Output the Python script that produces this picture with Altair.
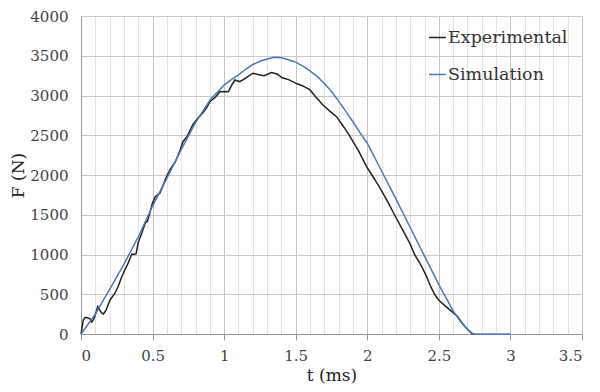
import altair as alt
import pandas as pd

# Experimental (black) curve
exp_t = [0.0, 0.016, 0.03, 0.045, 0.063, 0.075, 0.09, 0.105, 0.117, 0.13, 0.145, 0.157, 0.175,
         0.203, 0.238, 0.26, 0.285, 0.31, 0.33, 0.355, 0.37, 0.385, 0.40, 0.425, 0.449, 0.465,
         0.483, 0.50, 0.519, 0.55, 0.57, 0.59, 0.62, 0.66, 0.69, 0.712, 0.74, 0.78, 0.81, 0.85,
         0.88, 0.90, 0.94, 0.97, 1.0, 1.03, 1.05, 1.075, 1.11, 1.15, 1.2, 1.25, 1.28, 1.33, 1.37,
         1.41, 1.45, 1.506, 1.55, 1.6, 1.64, 1.69, 1.74, 1.785, 1.83, 1.88, 1.94, 1.995, 2.05,
         2.1, 2.15, 2.19, 2.25, 2.3, 2.33, 2.367, 2.41, 2.44, 2.47, 2.5, 2.55, 2.6, 2.63, 2.67, 2.7,
         2.73, 2.75]
exp_f = [0, 176, 210, 205, 190, 150, 190, 270, 345, 300, 265, 252, 300,
         428, 516, 600, 721, 820, 893, 1006, 1000, 1010, 1150, 1270, 1396, 1420,
         1539, 1650, 1727, 1770, 1850, 1950, 2060, 2170, 2300, 2419, 2480, 2629, 2700, 2780,
         2850, 2922, 2980, 3048, 3050, 3048, 3120, 3195, 3174, 3220, 3280, 3258, 3250, 3290, 3270,
         3220, 3200, 3150, 3120, 3070, 2980, 2880, 2800, 2734, 2620, 2482, 2300, 2105, 1950,
         1800, 1640, 1500, 1300, 1130, 1000, 893, 740, 610, 500, 425, 345, 268, 220, 120, 60,
         5, 0]

# Simulation (blue) curve
sim_t = [0.0, 0.1, 0.2, 0.3, 0.4, 0.5, 0.6, 0.7, 0.8, 0.9, 1.0, 1.05, 1.1, 1.15, 1.2, 1.25,
         1.3, 1.35, 1.4, 1.45, 1.5, 1.55, 1.6, 1.65, 1.7, 1.75, 1.8, 1.85, 1.9, 1.95, 2.0, 2.1,
         2.2, 2.3, 2.4, 2.5, 2.6, 2.65, 2.7, 2.74, 3.0]
sim_f = [0, 250, 560, 880, 1220, 1610, 1960, 2320, 2660, 2940, 3130, 3200, 3260, 3330, 3390, 3430,
         3460, 3480, 3475, 3450, 3420, 3370, 3310, 3240, 3150, 3050, 2930, 2800, 2670, 2530, 2400, 2050,
         1700, 1340, 980, 620, 290, 160, 60, 0, 0]

df = pd.concat([
    pd.DataFrame({"t": exp_t, "F": exp_f, "series": "Experimental"}),
    pd.DataFrame({"t": sim_t, "F": sim_f, "series": "Simulation"}),
])

x_vals = [round(i * 0.1, 1) for i in range(36)]
major = "abs(round(datum.value*2) - datum.value*2) < 0.001"

font = "DejaVu Serif"

chart = alt.Chart(df).mark_line(strokeWidth=1.5).encode(
    x=alt.X("t:Q", scale=alt.Scale(domain=[0, 3.5], nice=False),
            axis=alt.Axis(values=x_vals, title="t (ms)",
                          labelExpr=f"{major} ? format(datum.value, '~g') : ''",
                          gridColor={"condition": {"test": major, "value": "#c4c4c4"}, "value": "#e2e2e2"},
                          tickOpacity={"condition": {"test": major, "value": 1}, "value": 0},
                          tickSize=6, tickColor="#999", domainColor="#999",
                          labelFont=font, labelFontSize=15, labelColor="#444", labelPadding=8,
                          titleFont=font, titleFontSize=17, titleFontWeight="normal",
                          titleColor="#222", titlePadding=4)),
    y=alt.Y("F:Q", scale=alt.Scale(domain=[0, 4000], nice=False),
            axis=alt.Axis(values=list(range(0, 4001, 500)), title="F (N)", format="d",
                          gridColor="#c8c8c8", ticks=False, domainColor="#999",
                          labelFont=font, labelFontSize=15, labelColor="#444", labelPadding=13,
                          titleFont=font, titleFontSize=17, titleFontWeight="normal",
                          titleColor="#222", titlePadding=2)),
    color=alt.Color("series:N",
                    scale=alt.Scale(domain=["Experimental", "Simulation"], range=["#222222", "#4a78b8"]),
                    legend=alt.Legend(title=None, orient="none", legendX=347, legendY=12,
                                      symbolType="stroke", symbolSize=289, symbolStrokeWidth=1.5,
                                      labelFont=font, labelFontSize=17.5, labelColor="#333",
                                      rowPadding=19, labelOffset=1)),
    order="t:Q",
).properties(
    width=501, height=318,
    autosize=alt.AutoSizeParams(type="none"),
    padding={"left": 73, "top": 8, "right": 10, "bottom": 50},
).configure_view(stroke=None)

chart.save("out.html", embed_options={"renderer": "svg", "actions": False})
